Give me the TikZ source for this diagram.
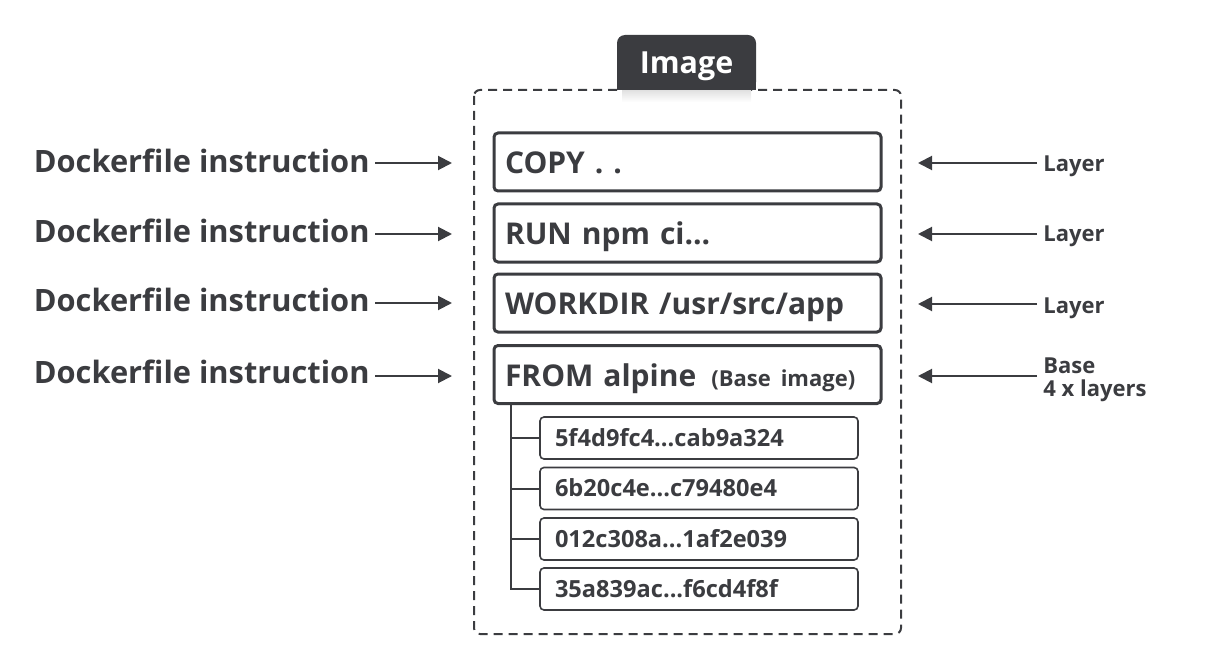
\documentclass[tikz,border=0pt]{standalone}
\usepackage{fontspec}
\setmainfont{Open Sans}
\usetikzlibrary{arrows.meta}
\definecolor{ink}{HTML}{3B3C40}

\begin{document}
\begin{tikzpicture}[x=0.5pt,y=-0.5pt,
	instr/.style={inner sep=0pt,text=ink,font=\bfseries\fontsize{15.4}{18}\selectfont},
	side/.style={inner sep=0pt,text=ink,font=\bfseries\fontsize{11}{11.5}\selectfont,align=left},
	layerbox/.style={draw=ink,line width=1.5pt,rounded corners=2pt,minimum width=193.5pt,minimum height=29pt,inner xsep=5.5pt,text width=182.5pt,align=left,text height=11.5pt,text depth=0pt,text=ink,font=\bfseries\fontsize{15}{18}\selectfont},
	hashbox/.style={draw=ink,line width=0.8pt,rounded corners=2pt,minimum width=159pt,minimum height=21pt,inner xsep=7.5pt,text width=144pt,align=left,text height=8.3pt,text depth=0pt,text=ink,font=\bfseries\fontsize{11.8}{14}\selectfont},
	arr/.style={draw=ink,line width=1pt,-{Triangle[length=7pt,width=7pt]}}]
		\useasboundingbox (0,0) rectangle (1208,668);
		
		\draw[ink,line width=1pt,dash pattern=on 4.5pt off 3pt,rounded corners=3pt] (474,90) rectangle (901,634);
		\shade[top color=black!12,bottom color=white] (622,90) rectangle (751,102);
		\fill[ink,rounded corners=4pt] (617,35) rectangle (756,90);
		\fill[ink] (617,70) rectangle (756,90);
		\node[white,inner sep=0pt,anchor=base,font=\bfseries\fontsize{15.2}{18}\selectfont] at (686.5,74) (img) {Image};
		
		\node[layerbox] at (687.5,162) (c1) {COPY . .};
		\node[layerbox] at (687.5,233) (c2) {RUN npm ci...};
		\node[layerbox] at (687.5,303) (c3) {WORKDIR /usr/src/app};
		\node[layerbox] at (687.5,374.5) (c4) {FROM alpine\hspace{7.5pt}{\fontsize{11}{13}\selectfont(Base image)}};
		
		\node[hashbox] at (699,438) (h1) {5f4d9fc4...cab9a324};
		\node[hashbox] at (699,488.5) (h2) {6b20c4e...c79480e4};
		\node[hashbox] at (699,539) (h3) {012c308a...1af2e039};
		\node[hashbox] at (699,589) (h4) {35a839ac...f6cd4f8f};
		
		\coordinate (t) at ([xshift=9pt]c4.south west);
		\draw[ink,line width=1pt] (t) |- (h4.west);
		\draw[ink,line width=1pt] (t |- h1.west) -- (h1.west);
		\draw[ink,line width=1pt] (t |- h2.west) -- (h2.west);
		\draw[ink,line width=1pt] (t |- h3.west) -- (h3.west);
		
		\node[instr,anchor=east] at (370,161) (d1) {Dockerfile instruction};
		\node[instr,anchor=east] at (370,231) (d2) {Dockerfile instruction};
		\node[instr,anchor=east] at (370,300) (d3) {Dockerfile instruction};
		\node[instr,anchor=east] at (370,372) (d4) {Dockerfile instruction};
		\coordinate (p1) at (452,163);
		\coordinate (p2) at (452,234);
		\coordinate (p3) at (452,303);
		\coordinate (p4) at (452,376);
		\draw[arr,shorten <=2.5pt] (d1.east |- p1) -- (p1);
		\draw[arr,shorten <=2.5pt] (d2.east |- p2) -- (p2);
		\draw[arr,shorten <=2.5pt] (d3.east |- p3) -- (p3);
		\draw[arr,shorten <=2.5pt] (d4.east |- p4) -- (p4);
		
		\node[side,anchor=base west] at (1043,172) (s1) {Layer};
		\node[side,anchor=base west] at (1043,242) (s2) {Layer};
		\node[side,anchor=base west] at (1043,313) (s3) {Layer};
		\node[side,anchor=north west] at (1043,357) (s4) {Base\\4 x layers};
		\coordinate (r1) at (918,163);
		\coordinate (r2) at (918,234);
		\coordinate (r3) at (918,304);
		\coordinate (r4) at (918,376);
		\draw[arr,shorten <=3pt] (s1.west |- r1) -- (r1);
		\draw[arr,shorten <=3pt] (s2.west |- r2) -- (r2);
		\draw[arr,shorten <=3pt] (s3.west |- r3) -- (r3);
		\draw[arr,shorten <=3pt] (s4.west |- r4) -- (r4);
	\end{tikzpicture}
\end{document}
